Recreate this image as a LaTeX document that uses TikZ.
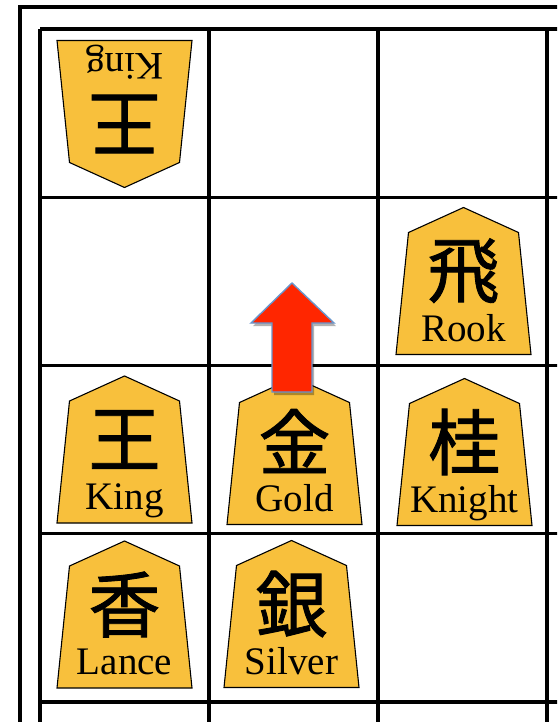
\documentclass[tikz,border=0pt]{standalone}
\usepackage{fontspec}
\setmainfont{Liberation Serif}
\newfontfamily\kanjifont[FakeBold=1.2]{Noto Sans CJK JP}
\usepackage{tikz}
\usetikzlibrary{shadows}
\definecolor{pieceyellow}{RGB}{248,192,60}
\definecolor{arrowred}{RGB}{255,38,0}
\definecolor{arrowedge}{RGB}{104,150,205}
\tikzset{
  frameline/.style={line width=4.5pt, black},
  gridline/.style={line width=3.2pt, black},
  piecebody/.style={draw=black, line width=1.1pt, fill=pieceyellow, line join=miter},
  kanji/.style={inner sep=0pt, font=\kanjifont\fontsize{72}{72}\selectfont},
  piecename/.style={inner sep=0pt, font=\fontsize{39}{39}\selectfont},
  movearrow/.style={fill=arrowred, draw=arrowedge, line width=1.4pt,
    drop shadow={shadow xshift=2pt, shadow yshift=-3pt, opacity=0.3, fill=black}}
}
% piece: name, centre, rotation, kanji, label
\newcommand{\shogipiece}[5]{%
  \begin{scope}[shift={#2}, rotate=#3]
    \draw[piecebody] (0,-73.5) -- (55,-48.5) -- (67.5,73.5) -- (-67.5,73.5) -- (-55,-48.5) -- cycle;
    \node[kanji, rotate=#3] (#1-kanji) at (0,-10) {#4};
    \node[piecename, rotate=#3, anchor=base] (#1-name) at (0,60) {#5};
  \end{scope}}
\begin{document}
\begin{tikzpicture}[x=1pt, y=-1pt]
\useasboundingbox (0,0) rectangle (557,722);
\clip (0,0) rectangle (557,722);
\fill[white] (0,0) rectangle (557,722);

% Board
\draw[frameline] (20,7) rectangle (620,800);
\foreach \gx in {40,209,378,547}
  \draw[gridline] (\gx,29) -- (\gx,760);
\foreach \gy in {29,197.25,365.5,533.75,702}
  \draw[gridline] (40,\gy) -- (600,\gy);

% Row 1
\shogipiece{oppking}{(124.5,114)}{180}{王}{King}

% Row 2
\shogipiece{rook}{(463.5,281)}{0}{飛}{Rook}

% Row 3
\shogipiece{king}{(124.5,449.5)}{0}{王}{King}
\shogipiece{gold}{(294.5,451)}{0}{金}{Gold}
\shogipiece{knight}{(464.5,452)}{0}{桂}{Knight}

% Row 4
\shogipiece{lance}{(124.5,614.5)}{0}{香}{Lance}
\shogipiece{silver}{(291.5,614)}{0}{銀}{Silver}

% Move
\draw[movearrow] (292,283) -- (334,323) -- (312,323) -- (312,392)
  -- (272,392) -- (272,323) -- (251,323) -- cycle;
\end{tikzpicture}
\end{document}
